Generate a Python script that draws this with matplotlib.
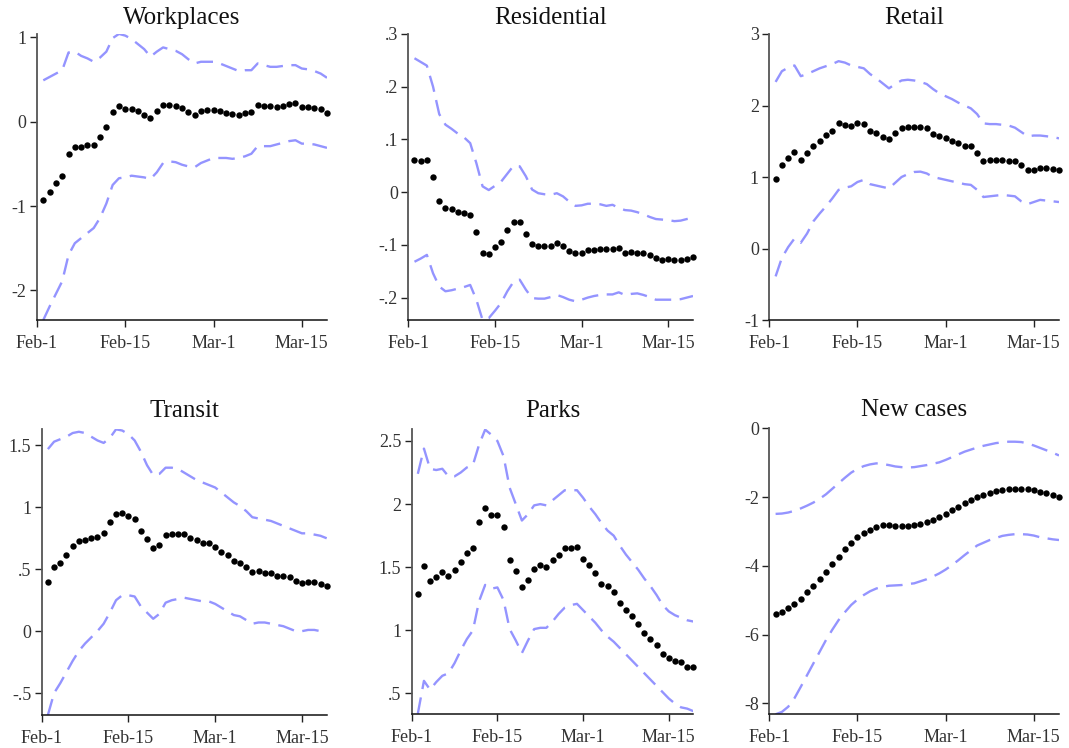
import numpy as np
import pandas as pd
import matplotlib
matplotlib.use("Agg")
import matplotlib.pyplot as plt
import matplotlib.dates as mdates
from matplotlib.ticker import FuncFormatter

plt.rcParams['font.family'] = ['Liberation Serif', 'DejaVu Serif']

dates = pd.date_range("2021-02-02", periods=46, freq="D")
tick_dates = pd.to_datetime(["2021-02-01", "2021-02-15", "2021-03-01", "2021-03-15"])
tick_labels = ["Feb-1", "Feb-15", "Mar-1", "Mar-15"]

titles = ["Workplaces", "Residential", "Retail", "Transit", "Parks", "New cases"]

workplaces_est = [-0.926, -0.83, -0.725, -0.642, -0.378, -0.296, -0.30, -0.272, -0.28, -0.181,
                  -0.059, 0.118, 0.185, 0.154, 0.154, 0.122, 0.083, 0.039, 0.122, 0.197,
                  0.195, 0.189, 0.162, 0.11, 0.079, 0.122, 0.134, 0.138, 0.122, 0.106,
                  0.087, 0.079, 0.106, 0.11, 0.193, 0.181, 0.181, 0.177, 0.189, 0.205,
                  0.217, 0.177, 0.169, 0.158, 0.146, 0.106]
workplaces_hi = [0.49, 0.53, 0.57, 0.61, 0.82, 0.83, 0.78, 0.75, 0.71, 0.76,
                 0.83, 0.99, 1.04, 1.02, 0.98, 0.92, 0.86, 0.77, 0.83, 0.88,
                 0.86, 0.84, 0.80, 0.74, 0.69, 0.71, 0.71, 0.71, 0.69, 0.66,
                 0.63, 0.60, 0.61, 0.61, 0.69, 0.67, 0.65, 0.65, 0.66, 0.67,
                 0.67, 0.63, 0.62, 0.60, 0.57, 0.52]
workplaces_lo = [-2.35, -2.19, -2.04, -1.89, -1.58, -1.44, -1.38, -1.32, -1.26, -1.14,
                 -0.97, -0.75, -0.67, -0.66, -0.64, -0.65, -0.66, -0.68, -0.60, -0.49,
                 -0.47, -0.48, -0.51, -0.53, -0.54, -0.49, -0.46, -0.43, -0.43, -0.43,
                 -0.44, -0.43, -0.41, -0.38, -0.29, -0.29, -0.29, -0.27, -0.25, -0.23,
                 -0.22, -0.26, -0.26, -0.27, -0.29, -0.31]

residential_est = [0.061, 0.060, 0.061, 0.028, -0.016, -0.030, -0.032, -0.038, -0.039, -0.043,
                   -0.075, -0.116, -0.117, -0.104, -0.094, -0.071, -0.057, -0.057, -0.080, -0.099,
                   -0.102, -0.102, -0.103, -0.097, -0.102, -0.111, -0.116, -0.116, -0.110, -0.109,
                   -0.107, -0.108, -0.108, -0.105, -0.115, -0.113, -0.116, -0.115, -0.119, -0.124,
                   -0.128, -0.126, -0.128, -0.129, -0.127, -0.123]
residential_hi = [0.254, 0.247, 0.240, 0.200, 0.148, 0.128, 0.120, 0.111, 0.104, 0.093,
                  0.055, 0.011, 0.004, 0.012, 0.020, 0.035, 0.050, 0.049, 0.030, 0.005,
                  -0.002, -0.004, -0.005, -0.002, -0.008, -0.018, -0.026, -0.025, -0.022, -0.022,
                  -0.023, -0.026, -0.024, -0.030, -0.034, -0.035, -0.038, -0.042, -0.047, -0.051,
                  -0.052, -0.053, -0.055, -0.054, -0.051, -0.049]
residential_lo = [-0.132, -0.126, -0.119, -0.154, -0.179, -0.188, -0.186, -0.183, -0.180, -0.176,
                  -0.204, -0.2425, -0.239, -0.225, -0.210, -0.188, -0.170, -0.166, -0.185, -0.201,
                  -0.202, -0.202, -0.199, -0.195, -0.199, -0.204, -0.207, -0.204, -0.200, -0.197,
                  -0.195, -0.194, -0.194, -0.190, -0.195, -0.193, -0.192, -0.195, -0.199, -0.204,
                  -0.204, -0.204, -0.204, -0.203, -0.200, -0.197]

retail_est = [0.973, 1.17, 1.27, 1.355, 1.24, 1.33, 1.43, 1.51, 1.59, 1.65,
              1.75, 1.73, 1.71, 1.75, 1.746, 1.65, 1.616, 1.565, 1.53, 1.62,
              1.68, 1.695, 1.70, 1.695, 1.69, 1.606, 1.574, 1.55, 1.51, 1.476,
              1.44, 1.434, 1.34, 1.23, 1.24, 1.24, 1.24, 1.22, 1.225, 1.17,
              1.10, 1.10, 1.127, 1.127, 1.11, 1.094]
retail_hi = [2.33, 2.48, 2.53, 2.56, 2.41, 2.44, 2.48, 2.52, 2.55, 2.58,
             2.62, 2.60, 2.56, 2.54, 2.52, 2.44, 2.38, 2.31, 2.24, 2.30,
             2.35, 2.36, 2.35, 2.33, 2.30, 2.23, 2.17, 2.13, 2.09, 2.04,
             2.00, 1.96, 1.88, 1.75, 1.74, 1.74, 1.73, 1.72, 1.69, 1.63,
             1.57, 1.58, 1.58, 1.57, 1.56, 1.54]
retail_lo = [-0.39, -0.13, 0.02, 0.14, 0.08, 0.21, 0.38, 0.49, 0.59, 0.70,
             0.82, 0.85, 0.87, 0.93, 0.96, 0.90, 0.88, 0.86, 0.84, 0.92,
             1.00, 1.04, 1.07, 1.075, 1.05, 1.00, 0.98, 0.96, 0.94, 0.92,
             0.90, 0.89, 0.82, 0.72, 0.73, 0.74, 0.75, 0.74, 0.73, 0.66,
             0.62, 0.65, 0.68, 0.67, 0.66, 0.65]

transit_est = [0.395, 0.519, 0.551, 0.616, 0.688, 0.726, 0.734, 0.755, 0.761, 0.793,
               0.879, 0.949, 0.957, 0.930, 0.903, 0.806, 0.745, 0.675, 0.694, 0.774,
               0.788, 0.785, 0.788, 0.753, 0.737, 0.715, 0.712, 0.683, 0.642, 0.613,
               0.567, 0.554, 0.522, 0.481, 0.487, 0.473, 0.468, 0.449, 0.449, 0.435,
               0.406, 0.392, 0.395, 0.398, 0.384, 0.368]
transit_hi = [1.47, 1.53, 1.55, 1.57, 1.60, 1.61, 1.60, 1.57, 1.54, 1.52,
              1.56, 1.63, 1.62, 1.59, 1.54, 1.45, 1.34, 1.26, 1.27, 1.32,
              1.32, 1.31, 1.28, 1.25, 1.22, 1.20, 1.18, 1.16, 1.12, 1.08,
              1.04, 1.01, 0.97, 0.92, 0.91, 0.90, 0.89, 0.87, 0.85, 0.83,
              0.81, 0.79, 0.79, 0.78, 0.77, 0.75]
transit_lo = [-0.677, -0.50, -0.42, -0.33, -0.24, -0.16, -0.10, -0.05, 0.00, 0.06,
              0.15, 0.25, 0.29, 0.29, 0.28, 0.20, 0.15, 0.10, 0.14, 0.23,
              0.25, 0.26, 0.27, 0.26, 0.25, 0.24, 0.24, 0.22, 0.19, 0.16,
              0.13, 0.12, 0.09, 0.06, 0.07, 0.07, 0.06, 0.05, 0.04, 0.02,
              0.00, 0.00, 0.01, 0.01, 0.00, -0.01]

parks_est = [1.285, 1.513, 1.392, 1.419, 1.463, 1.434, 1.482, 1.542, 1.615, 1.652,
             1.857, 1.967, 1.917, 1.917, 1.818, 1.555, 1.468, 1.345, 1.398, 1.489,
             1.516, 1.505, 1.555, 1.597, 1.652, 1.652, 1.657, 1.566, 1.516, 1.453,
             1.369, 1.353, 1.303, 1.217, 1.159, 1.114, 1.051, 0.979, 0.928, 0.881,
             0.815, 0.781, 0.755, 0.747, 0.713, 0.713]
parks_hi = [2.24, 2.44, 2.28, 2.27, 2.28, 2.22, 2.22, 2.25, 2.29, 2.31,
            2.47, 2.59, 2.55, 2.50, 2.38, 2.13, 2.00, 1.87, 1.92, 1.99,
            2.00, 1.99, 2.03, 2.07, 2.11, 2.11, 2.11, 2.05, 1.98, 1.92,
            1.85, 1.79, 1.75, 1.67, 1.60, 1.54, 1.48, 1.41, 1.35, 1.28,
            1.20, 1.15, 1.12, 1.10, 1.08, 1.07]
parks_lo = [0.34, 0.60, 0.53, 0.59, 0.64, 0.66, 0.74, 0.84, 0.93, 1.00,
            1.23, 1.36, 1.33, 1.34, 1.24, 1.01, 0.92, 0.82, 0.92, 1.01,
            1.02, 1.02, 1.07, 1.13, 1.18, 1.20, 1.21, 1.16, 1.11, 1.06,
            1.00, 0.95, 0.91, 0.86, 0.81, 0.76, 0.71, 0.66, 0.61, 0.56,
            0.51, 0.46, 0.42, 0.39, 0.38, 0.36]

cases_est = [-5.40, -5.33, -5.23, -5.12, -4.97, -4.75, -4.59, -4.38, -4.18, -3.96,
             -3.73, -3.51, -3.33, -3.15, -3.04, -2.95, -2.88, -2.82, -2.80, -2.83,
             -2.84, -2.84, -2.82, -2.79, -2.74, -2.67, -2.58, -2.48, -2.38, -2.28,
             -2.17, -2.08, -2.01, -1.94, -1.88, -1.83, -1.79, -1.77, -1.76, -1.76,
             -1.77, -1.80, -1.84, -1.89, -1.94, -2.00]
cases_hi = [-2.49, -2.48, -2.45, -2.40, -2.33, -2.25, -2.16, -2.05, -1.92, -1.76,
            -1.60, -1.44, -1.29, -1.18, -1.10, -1.05, -1.02, -1.04, -1.07, -1.11,
            -1.13, -1.14, -1.13, -1.10, -1.07, -1.03, -0.99, -0.92, -0.84, -0.76,
            -0.68, -0.62, -0.56, -0.51, -0.47, -0.43, -0.41, -0.39, -0.39, -0.40,
            -0.44, -0.50, -0.57, -0.64, -0.71, -0.79]
cases_lo = [-8.32, -8.25, -8.10, -7.85, -7.52, -7.18, -6.84, -6.50, -6.16, -5.86,
            -5.58, -5.35, -5.14, -4.98, -4.85, -4.74, -4.66, -4.61, -4.58, -4.57,
            -4.56, -4.53, -4.51, -4.45, -4.39, -4.31, -4.22, -4.11, -3.98, -3.84,
            -3.69, -3.55, -3.41, -3.33, -3.25, -3.19, -3.13, -3.10, -3.08, -3.08,
            -3.09, -3.12, -3.17, -3.20, -3.23, -3.25]

yticks = [[1, 0, -1, -2], [0.3, 0.2, 0.1, 0, -0.1, -0.2], [3, 2, 1, 0, -1],
          [1.5, 1, 0.5, 0, -0.5], [2.5, 2, 1.5, 1, 0.5], [0, -2, -4, -6, -8]]
ylims = [(-2.35, 1.045), (-0.2425, 0.30), (-1, 3), (-0.677, 1.63), (0.335, 2.595), (-8.32, 0)]

series = [(workplaces_est, workplaces_lo, workplaces_hi),
          (residential_est, residential_lo, residential_hi),
          (retail_est, retail_lo, retail_hi),
          (transit_est, transit_lo, transit_hi),
          (parks_est, parks_lo, parks_hi),
          (cases_est, cases_lo, cases_hi)]

W, H = 1069, 748
# axes boxes in pixels: left, top, right, bottom
boxes = [(37, 33.5, 327, 320), (408.3, 34, 693, 320), (769.3, 34, 1059, 320),
         (41.7, 429.3, 326.7, 715), (411.7, 429, 693.3, 714.3), (769.3, 428.3, 1059, 714.3)]
title_pads = [7.0, 7.0, 7.0, 8.5, 8.5, 8.5]

def stata_fmt(v, pos):
    if abs(v) < 1e-9:
        return "0"
    s = ("%g" % round(v, 6))
    if s.startswith("0."):
        s = s[1:]
    elif s.startswith("-0."):
        s = "-" + s[2:]
    return s

fig = plt.figure(figsize=(W / 100, H / 100), dpi=100)
blue = "#9494ff"

for i in range(6):
    l, t, r, b = boxes[i]
    ax = fig.add_axes([l / W, (H - b) / H, (r - l) / W, (b - t) / H])
    est, lo, hi = series[i]
    ax.plot(dates, hi, color=blue, lw=1.7, dashes=(7, 3.6), clip_on=True)
    ax.plot(dates, lo, color=blue, lw=1.7, dashes=(7, 3.6), clip_on=True)
    ax.plot(dates, est, 'o', color='black', markersize=4.6, markeredgewidth=0, clip_on=False)
    ax.set_xlim(pd.Timestamp("2021-02-01"), pd.Timestamp("2021-03-19"))
    ax.set_ylim(*ylims[i])
    ax.set_xticks(tick_dates)
    ax.set_xticklabels(tick_labels)
    ax.set_yticks(yticks[i])
    ax.yaxis.set_major_formatter(FuncFormatter(stata_fmt))
    for s in ['top', 'right']:
        ax.spines[s].set_visible(False)
    ax.spines['left'].set_color('#555555')
    ax.spines['left'].set_linewidth(1.3)
    ax.spines['bottom'].set_color('#111111')
    ax.spines['bottom'].set_linewidth(1.1)
    ax.tick_params(axis='both', direction='out', length=5, width=1.0, color='#222222',
                   labelsize=13, labelcolor='#333333')
    ax.tick_params(axis='x', pad=5.5)
    ax.tick_params(axis='y', pad=2.5)
    ax.set_title(titles[i], fontsize=18, pad=title_pads[i], color='#111111')

fig.savefig("out.png", dpi=100)
